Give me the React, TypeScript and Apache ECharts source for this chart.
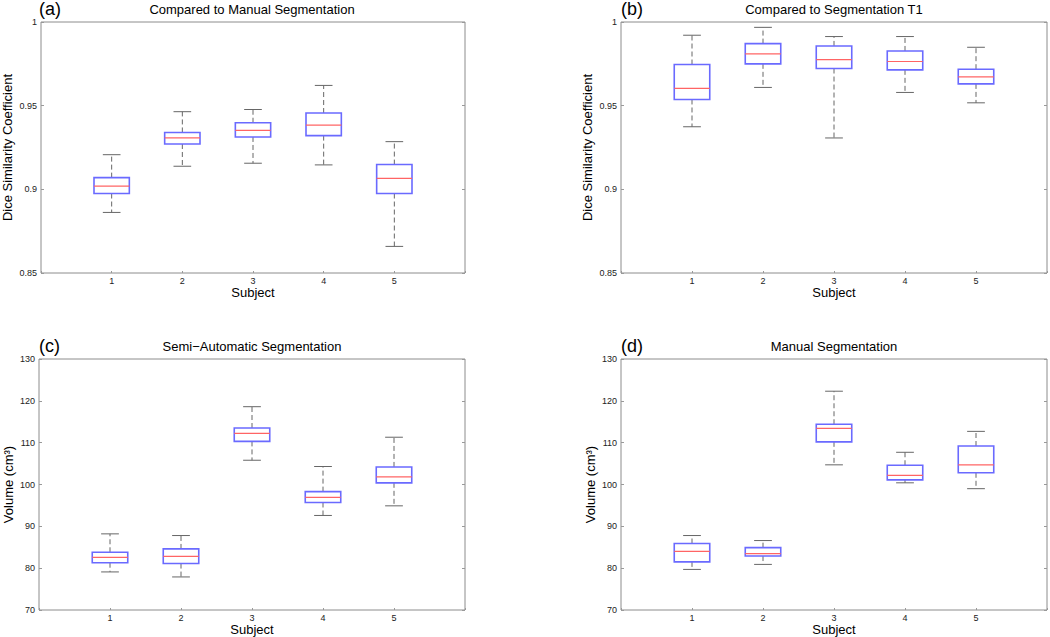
import React, { useEffect, useRef } from "react";
import * as echarts from "echarts";

const subjects = [1, 2, 3, 4, 5];

// (a) Dice vs manual segmentation
const aLow = [0.8862, 0.9138, 0.9156, 0.9146, 0.8659];
const aQ1 = [0.8975, 0.9271, 0.9313, 0.9321, 0.8975];
const aMed = [0.9019, 0.9307, 0.9352, 0.9384, 0.9066];
const aQ3 = [0.907, 0.934, 0.9398, 0.9456, 0.9148];
const aHigh = [0.9207, 0.9464, 0.9477, 0.9621, 0.9285];

// (b) Dice vs segmentation T1
const bLow = [0.9374, 0.9609, 0.9307, 0.9579, 0.9517];
const bQ1 = [0.9537, 0.975, 0.9722, 0.9714, 0.963];
const bMed = [0.9603, 0.9809, 0.9775, 0.9764, 0.9672];
const bQ3 = [0.9746, 0.9871, 0.9857, 0.9827, 0.9718];
const bHigh = [0.9921, 0.9968, 0.9913, 0.9913, 0.9849];

// (c) Semi-automatic volume
const cLow = [79.1, 77.9, 105.8, 92.6, 94.9];
const cQ1 = [81.3, 81.1, 110.3, 95.7, 100.4];
const cMed = [82.6, 82.8, 112.2, 96.9, 101.8];
const cQ3 = [83.8, 84.6, 113.5, 98.3, 104.2];
const cHigh = [88.2, 87.8, 118.6, 104.3, 111.3];

// (d) Manual volume
const dLow = [79.7, 80.9, 104.7, 100.4, 99.0];
const dQ1 = [81.5, 82.9, 110.2, 101.1, 102.8];
const dMed = [84.0, 83.5, 113.4, 102.2, 104.7];
const dQ3 = [85.9, 84.9, 114.4, 104.6, 109.2];
const dHigh = [87.8, 86.6, 122.3, 107.7, 112.7];

const diceTicks = { min: 0.85, max: 1, interval: 0.05 };
const volumeTicks = { min: 70, max: 130, interval: 10 };

const FONT = "'Liberation Sans', Arial, Helvetica, sans-serif";

const build = (lo: number[], q1: number[], med: number[], q3: number[], hi: number[]) =>
  subjects.map((s, i) => [s, lo[i], q1[i], med[i], q3[i], hi[i]]);

const renderBox = (params: any, api: any) => {
  const x = api.value(0);
  const pLow = api.coord([x, api.value(1)]);
  const pQ1 = api.coord([x, api.value(2)]);
  const pMed = api.coord([x, api.value(3)]);
  const pQ3 = api.coord([x, api.value(4)]);
  const pHigh = api.coord([x, api.value(5)]);
  const left = api.coord([x - 0.25, api.value(3)])[0];
  const cx = pMed[0];
  const half = cx - left;
  const cap = half / 2;
  const wStyle = { stroke: "#666", lineWidth: 1, lineDash: [5, 3] };
  const cStyle = { stroke: "#666", lineWidth: 1 };
  return {
    type: "group",
    children: [
      { type: "line", shape: { x1: cx, y1: pQ3[1], x2: cx, y2: pHigh[1] }, style: wStyle },
      { type: "line", shape: { x1: cx, y1: pQ1[1], x2: cx, y2: pLow[1] }, style: wStyle },
      { type: "line", shape: { x1: cx - cap, y1: pHigh[1], x2: cx + cap, y2: pHigh[1] }, style: cStyle },
      { type: "line", shape: { x1: cx - cap, y1: pLow[1], x2: cx + cap, y2: pLow[1] }, style: cStyle },
      {
        type: "rect",
        shape: { x: cx - half, y: pQ3[1], width: 2 * half, height: pQ1[1] - pQ3[1] },
        style: { fill: "none", stroke: "#6a6aff", lineWidth: 1.6 },
      },
      {
        type: "line",
        shape: { x1: cx - half, y1: pMed[1], x2: cx + half, y2: pMed[1] },
        style: { stroke: "#ff6464", lineWidth: 1.2 },
      },
    ],
  };
};

const grids = [
  { left: 39, top: 22, width: 426, height: 251 },
  { left: 621, top: 22, width: 426, height: 251 },
  { left: 39, top: 359, width: 426, height: 252 },
  { left: 621, top: 359, width: 426, height: 252 },
];

export default function App() {
  const ref = useRef<HTMLDivElement>(null);
  useEffect(() => {
    if (!ref.current) return;
    const chart = echarts.init(ref.current, null, { renderer: "svg" });
    const datasets = [
      build(aLow, aQ1, aMed, aQ3, aHigh),
      build(bLow, bQ1, bMed, bQ3, bHigh),
      build(cLow, cQ1, cMed, cQ3, cHigh),
      build(dLow, dQ1, dMed, dQ3, dHigh),
    ];
    const yNames = [
      "Dice Similarity Coefficient",
      "Dice Similarity Coefficient",
      "Volume (cm³)",
      "Volume (cm³)",
    ];
    const titles = [
      "Compared to Manual Segmentation",
      "Compared to Segmentation T1",
      "Semi\u2212Automatic Segmentation",
      "Manual Segmentation",
    ];
    const letters = ["(a)", "(b)", "(c)", "(d)"];

    const xAxis: any[] = [];
    const yAxis: any[] = [];
    const series: any[] = [];
    const graphic: any[] = [];

    grids.forEach((g, i) => {
      const ticks = i < 2 ? diceTicks : volumeTicks;
      xAxis.push({
        type: "value",
        gridIndex: i,
        min: 0,
        max: 6,
        interval: 1,
        axisLine: { show: false },
        axisTick: { show: true, inside: true, length: 2, lineStyle: { color: "#999" } },
        splitLine: { show: false },
        axisLabel: {
          fontSize: 9,
          fontFamily: FONT,
          color: "#222",
          margin: 3,
          formatter: (v: number) => (v >= 1 && v <= 5 ? String(v) : ""),
        },
        name: "Subject",
        nameLocation: "middle",
        nameGap: 13,
        nameTextStyle: { fontSize: 13, fontFamily: FONT, color: "#000" },
      });
      yAxis.push({
        type: "value",
        gridIndex: i,
        min: ticks.min,
        max: ticks.max,
        interval: ticks.interval,
        axisLine: { show: false },
        axisTick: { show: true, inside: true, length: 3, lineStyle: { color: "#999" } },
        splitLine: { show: false },
        axisLabel: { fontSize: 9, fontFamily: FONT, color: "#222", margin: 4 },
        name: yNames[i],
        nameLocation: "middle",
        nameGap: i < 2 ? 27 : 24,
        nameTextStyle: { fontSize: 13, fontFamily: FONT, color: "#000" },
      });
      yAxis.push({
        type: "value",
        gridIndex: i,
        position: "right",
        min: ticks.min,
        max: ticks.max,
        interval: ticks.interval,
        axisLine: { show: false },
        axisTick: { show: true, inside: true, length: 3, lineStyle: { color: "#999" } },
        splitLine: { show: false },
        axisLabel: { show: false },
      });
      series.push({
        type: "custom",
        xAxisIndex: i,
        yAxisIndex: i * 2,
        data: datasets[i],
        encode: { x: 0, y: [1, 2, 3, 4, 5] },
        renderItem: renderBox,
        clip: false,
      });
      graphic.push({
        type: "text",
        left: g.left,
        top: g.top - 22,
        style: { text: letters[i], fontSize: 18, fontFamily: FONT, fill: "#000" },
      });
      graphic.push({
        type: "text",
        x: g.left + g.width / 2,
        y: g.top - 13,
        style: {
          text: titles[i],
          fontSize: 13,
          fontFamily: FONT,
          fill: "#000",
          align: "center",
          verticalAlign: "middle",
        },
      });
    });

    chart.setOption({
      animation: false,
      backgroundColor: "#fff",
      grid: grids.map((g) => ({ ...g, show: true, borderColor: "#8c8c8c", borderWidth: 1, containLabel: false })),
      xAxis,
      yAxis,
      series,
      graphic,
    });
    return () => chart.dispose();
  }, []);
  return (
    <div
      ref={ref}
      style={{ position: "fixed", left: 0, top: 0, width: 1050, height: 637, background: "#fff" }}
    />
  );
}
